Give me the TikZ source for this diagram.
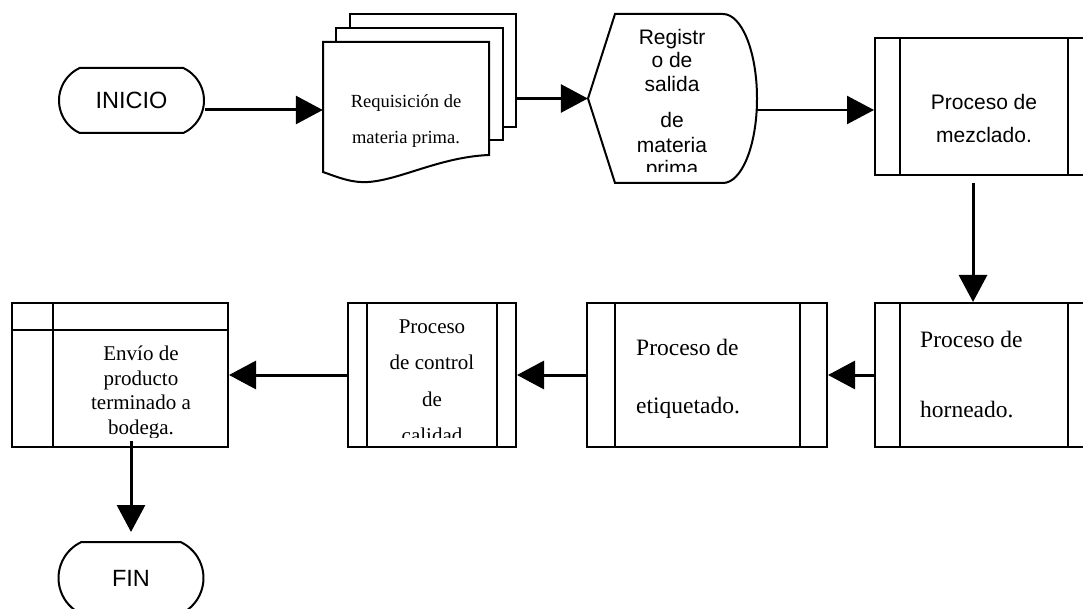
\documentclass[tikz,border=0pt]{standalone}
\usepackage{fontspec}
\setmainfont{Liberation Serif}
\newfontfamily\arialfont{Liberation Sans}
\usetikzlibrary{arrows.meta,calc,shapes.misc}

\begin{document}
\begin{tikzpicture}[x=1pt,y=-1pt,
  outline/.style={draw, line width=2pt, fill=white},
  rule/.style={line width=2pt},
  page/.style={draw, line width=2pt, fill=white, inner sep=0pt},
  area/.style={draw=none, inner sep=0pt},
  procbox/.style={draw, line width=2pt, fill=white, inner sep=0pt, minimum height=144pt},
  term/.style={draw, line width=2pt, rounded rectangle, rounded rectangle arc length=130,
    minimum width=145pt, inner sep=0pt, font=\arialfont\fontsize{23.5}{28}\selectfont},
  arr/.style={line width=3pt, -{Triangle[length=27pt,width=28pt]}},
  sanstxt/.style={inner sep=0pt, anchor=base, font=\arialfont\fontsize{21}{25}\selectfont},
  sertxt/.style={inner sep=0pt, anchor=base, font=\fontsize{21}{25}\selectfont},
  bigser/.style={inner sep=0pt, anchor=base west, font=\fontsize{23.5}{28}\selectfont},
  smallser/.style={inner sep=0pt, anchor=base, font=\fontsize{18.5}{22}\selectfont},
]
\useasboundingbox (0,0) rectangle (1083,609);
\fill[white] (0,0) rectangle (1083,609);

% start and end terminals
\node[term, minimum height=65pt] (inicio) at (131.5,100.5) {INICIO};
\node[term, minimum height=72pt] (fin) at (131,578) {FIN};

% stack of documents
\node[page, minimum width=166pt, minimum height=113pt] (reqback) at (433,70.5) {};
\node[page, minimum width=167pt, minimum height=112pt] (reqmid) at (419.5,84) {};
\node[area, minimum width=166pt, minimum height=130pt] (req) at (406,107) {};
\draw[outline] (323,172) -- (323,42) -- (489,42) -- (489,155)
  .. controls (440,157) and (400,180) .. (368,182)
  .. controls (352,183) and (340,178) .. (323,172) -- cycle;
\node[smallser] (r1) at (406,108) {Requisición de};
\node[smallser] (r2) at (406,144) {materia prima.};

% display shape
\node[area, minimum width=169pt, minimum height=169pt] (disp) at (672.5,98.5) {};
\draw[outline] (588,98.5) -- (615,14) -- (723,14)
  arc[start angle=-90, end angle=90, x radius=34, y radius=84.5] -- (615,183) -- cycle;
\begin{scope}
  \clip (588,14) rectangle (757,172);
  \node[sanstxt] (d1) at (672,45) {Registr};
  \node[sanstxt] (d2) at (672,68) {o de};
  \node[sanstxt] (d3) at (672,92) {salida};
  \node[sanstxt] (d4) at (672,128) {de};
  \node[sanstxt] (d5) at (672,153) {materia};
  \node[sanstxt] (d6) at (672,176) {prima};
\end{scope}

% predefined process boxes
\node[procbox, minimum width=218pt, minimum height=137pt] (mez) at (984,106.5) {};
\node[procbox, minimum width=218pt] (horn) at (984,375) {};
\node[procbox, minimum width=240pt] (etiq) at (707,375) {};
\node[procbox, minimum width=168pt] (ctrl) at (432,375) {};
\node[procbox, minimum width=216pt] (envio) at (120,375) {};

\draw[rule] ([xshift=26pt]mez.north west) -- ([xshift=26pt]mez.south west)
            ([xshift=-26pt]mez.north east) -- ([xshift=-26pt]mez.south east);
\draw[rule] ([xshift=26pt]horn.north west) -- ([xshift=26pt]horn.south west)
            ([xshift=-26pt]horn.north east) -- ([xshift=-26pt]horn.south east);
\draw[rule] ([xshift=29pt]etiq.north west) -- ([xshift=29pt]etiq.south west)
            ([xshift=-28pt]etiq.north east) -- ([xshift=-28pt]etiq.south east);
\draw[rule] ([xshift=20pt]ctrl.north west) -- ([xshift=20pt]ctrl.south west)
            ([xshift=-20pt]ctrl.north east) -- ([xshift=-20pt]ctrl.south east);
\draw[rule] ([xshift=42pt]envio.north west) -- ([xshift=42pt]envio.south west)
            ([yshift=-28pt]envio.north west) -- ([yshift=-28pt]envio.north east);

% box texts
\node[sanstxt] (m1) at (984,110) {Proceso de};
\node[sanstxt] (m2) at (984,143) {mezclado.};
\node[bigser] (h1) at (920,347) {Proceso de};
\node[bigser] (h2) at (920,417) {horneado.};
\node[bigser] (e1) at (636,355) {Proceso de};
\node[bigser] (e2) at (636,413) {etiquetado.};
\begin{scope}
  \clip (368,303) rectangle (496,437);
  \node[sertxt] (c1) at (432,333) {Proceso};
  \node[sertxt] (c2) at (432,369) {de control};
  \node[sertxt] (c3) at (432,406) {de};
  \node[sertxt] (c4) at (432,442) {calidad};
\end{scope}
\begin{scope}
  \clip (54,331) rectangle (228,437);
  \node[sertxt] (v1) at (141,360) {Envío de};
  \node[sertxt] (v2) at (141,385) {producto};
  \node[sertxt] (v3) at (141,409) {terminado a};
  \node[sertxt] (v4) at (141,434) {bodega.};
\end{scope}

% connectors
\draw[arr] ($(inicio.east)+(0,9.5)$) coordinate (a1) -- (a1 -| req.west);
\draw[arr] (disp.west -| reqback.east) -- (disp.west);
\coordinate (a3) at ($(mez.west)+(0,3.5)$);
\draw[arr, line width=2.4pt] (a3 -| disp.east) -- (a3);
\draw[arr] ($(mez.south)+(-11,7)$) coordinate (a4) -- (a4 |- horn.north);
\draw[arr] (horn.west) -- (etiq.east);
\draw[arr] (etiq.west) -- (ctrl.east);
\draw[arr] (ctrl.west) -- (envio.east);
\draw[arr] ($(envio.south)+(11,-7)$) -- ($(fin.north)+(0,-9)$);
\end{tikzpicture}
\end{document}
